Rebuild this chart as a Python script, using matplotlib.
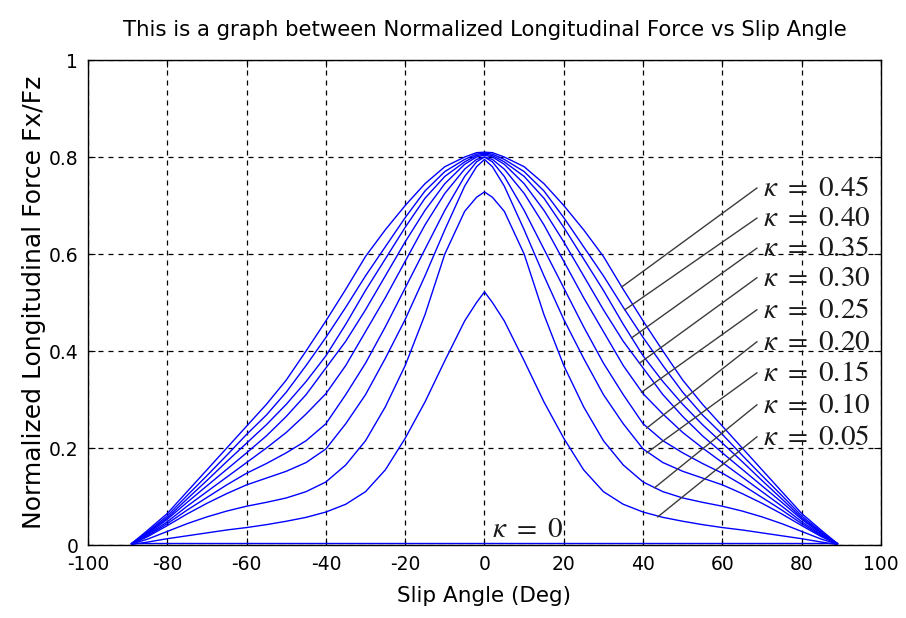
import matplotlib
matplotlib.use('Agg')
import matplotlib.pyplot as plt
import numpy as np

plt.rcParams['font.family'] = ['DejaVu Sans']
plt.rcParams['mathtext.fontset'] = 'stix'
plt.rcParams['axes.unicode_minus'] = False

# slip angle (deg), right half only - the curves are symmetric about 0
alpha = [0, 2, 5, 10, 15, 20, 25, 30, 35, 40, 45, 50, 55, 60, 65, 70, 75, 80, 85, 89]

# Fx/Fz for each slip ratio kappa
fx_000 = [0.005] * len(alpha)
fx_005 = [0.522, 0.50, 0.462, 0.38, 0.295, 0.22, 0.155, 0.11, 0.084, 0.068, 0.057, 0.049, 0.042, 0.036, 0.031, 0.025, 0.019, 0.013, 0.006, 0.001]
fx_010 = [0.728, 0.717, 0.688, 0.60, 0.475, 0.37, 0.285, 0.215, 0.165, 0.13, 0.11, 0.097, 0.088, 0.08, 0.07, 0.058, 0.044, 0.028, 0.012, 0.002]
fx_015 = [0.795, 0.78, 0.74, 0.65, 0.555, 0.465, 0.385, 0.31, 0.25, 0.198, 0.17, 0.152, 0.138, 0.124, 0.106, 0.086, 0.064, 0.04, 0.017, 0.002]
fx_020 = [0.80, 0.79, 0.76, 0.69, 0.61, 0.53, 0.45, 0.375, 0.31, 0.25, 0.215, 0.19, 0.168, 0.148, 0.124, 0.098, 0.072, 0.044, 0.019, 0.002]
fx_025 = [0.80, 0.795, 0.775, 0.725, 0.66, 0.585, 0.51, 0.44, 0.37, 0.312, 0.27, 0.232, 0.20, 0.17, 0.14, 0.11, 0.08, 0.048, 0.021, 0.003]
fx_030 = [0.804, 0.80, 0.785, 0.745, 0.69, 0.625, 0.555, 0.485, 0.42, 0.365, 0.31, 0.265, 0.225, 0.19, 0.156, 0.122, 0.088, 0.053, 0.023, 0.003]
fx_035 = [0.806, 0.803, 0.79, 0.76, 0.715, 0.655, 0.59, 0.525, 0.455, 0.39, 0.337, 0.29, 0.248, 0.21, 0.172, 0.133, 0.095, 0.056, 0.025, 0.003]
fx_040 = [0.808, 0.806, 0.795, 0.77, 0.73, 0.675, 0.615, 0.555, 0.49, 0.428, 0.37, 0.315, 0.268, 0.228, 0.185, 0.143, 0.102, 0.06, 0.027, 0.003]
fx_045 = [0.81, 0.809, 0.80, 0.78, 0.745, 0.70, 0.65, 0.595, 0.527, 0.462, 0.40, 0.34, 0.29, 0.245, 0.20, 0.155, 0.11, 0.065, 0.03, 0.003]

curves = [fx_000, fx_005, fx_010, fx_015, fx_020, fx_025, fx_030, fx_035, fx_040, fx_045]

# labels on the right, top to bottom, and where their leader lines touch the curves
kappa_labels = ['0.45', '0.40', '0.35', '0.30', '0.25', '0.20', '0.15', '0.10', '0.05']
label_y = [0.736, 0.674, 0.612, 0.551, 0.485, 0.419, 0.355, 0.289, 0.223]
tip_x = [34.6, 35.4, 37.1, 39.1, 39.6, 40.9, 40.9, 42.9, 43.7]
tip_y = [0.532, 0.485, 0.427, 0.375, 0.315, 0.241, 0.190, 0.118, 0.058]

fig = plt.figure(figsize=(9.06, 6.18), dpi=100)
ax = fig.add_axes([0.0971, 0.1181, 0.8753, 0.7848])

a = np.array(alpha)
full_a = np.concatenate([-a[:0:-1], a])
for c in curves:
    c = np.array(c)
    ax.plot(full_a, np.concatenate([c[:0:-1], c]), color='#0000ff', lw=1)

for lab, ly, tx, ty in zip(kappa_labels, label_y, tip_x, tip_y):
    ax.plot([68.7, tx], [ly, ty], color='#3c3c3c', lw=1)
    ax.text(70.2, ly, r'$\kappa\ =\ %s$' % lab, fontsize=21, va='center', ha='left', color='#1a1a1a')
ax.text(2.0, 0.033, r'$\kappa\ =\ 0$', fontsize=21, va='center', ha='left', color='#1a1a1a')

ax.set_xlim(-100, 100)
ax.set_ylim(0, 1)
ax.set_xticks(np.arange(-100, 101, 20))
ax.set_yticks([0, 0.2, 0.4, 0.6, 0.8, 1])
ax.set_yticklabels(['0', '0.2', '0.4', '0.6', '0.8', '1'])
ax.grid(True, color='k', linestyle=(0, (4, 4)), lw=0.9)
ax.tick_params(direction='in', top=True, right=True, length=5, labelsize=13.5, pad=7)
for s in ax.spines.values():
    s.set_linewidth(1)

ax.set_title('This is a graph between Normalized Longitudinal Force vs Slip Angle', fontsize=15.3, pad=17)
ax.set_xlabel('Slip Angle (Deg)', fontsize=15.5, labelpad=9)
ax.set_ylabel('Normalized Longitudinal Force Fx/Fz', fontsize=18, labelpad=2)

fig.savefig('out.png', dpi=100)
